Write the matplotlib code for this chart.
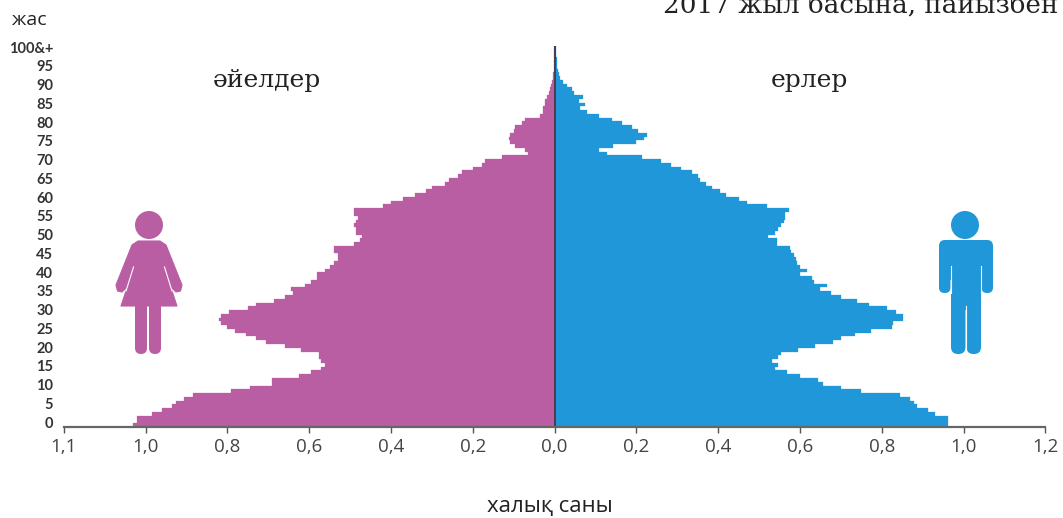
import numpy as np
import matplotlib
matplotlib.use('Agg')
import matplotlib.pyplot as plt
from matplotlib.patches import Circle, FancyBboxPatch, Polygon

ages = list(range(0, 101))

# age 0 .. 100
women = [1.03, 1.02, 1.02, 0.985, 0.96, 0.935, 0.925, 0.905, 0.885, 0.79,
         0.745, 0.69, 0.69, 0.625, 0.595, 0.57, 0.56, 0.57, 0.575, 0.575,
         0.62, 0.66, 0.705, 0.73, 0.755, 0.78, 0.80, 0.815, 0.82, 0.815,
         0.795, 0.75, 0.73, 0.685, 0.66, 0.64, 0.645, 0.61, 0.595, 0.58,
         0.58, 0.56, 0.55, 0.54, 0.53, 0.53, 0.54, 0.54, 0.49, 0.475,
         0.47, 0.485, 0.485, 0.49, 0.485, 0.48, 0.49, 0.49, 0.42, 0.40,
         0.37, 0.34, 0.315, 0.30, 0.267, 0.257, 0.235, 0.227, 0.20, 0.178,
         0.17, 0.129, 0.065, 0.072, 0.096, 0.108, 0.112, 0.108, 0.10, 0.096,
         0.08, 0.072, 0.035, 0.029, 0.029, 0.023, 0.023, 0.019, 0.013, 0.011,
         0.008, 0.006, 0.004, 0.003, 0.002, 0.001, 0.001, 0.001, 0.001, 0.001,
         0.001]
men = [0.963, 0.963, 0.963, 0.93, 0.914, 0.886, 0.88, 0.87, 0.845, 0.75,
       0.70, 0.657, 0.645, 0.60, 0.568, 0.54, 0.547, 0.531, 0.547, 0.555,
       0.596, 0.637, 0.682, 0.70, 0.735, 0.775, 0.825, 0.828, 0.853, 0.853,
       0.836, 0.812, 0.77, 0.74, 0.70, 0.677, 0.65, 0.666, 0.635, 0.63,
       0.60, 0.617, 0.60, 0.592, 0.59, 0.585, 0.578, 0.575, 0.543, 0.543,
       0.523, 0.54, 0.547, 0.555, 0.56, 0.563, 0.563, 0.574, 0.52, 0.47,
       0.45, 0.42, 0.405, 0.385, 0.37, 0.355, 0.35, 0.335, 0.31, 0.285,
       0.26, 0.215, 0.128, 0.11, 0.144, 0.20, 0.218, 0.227, 0.205, 0.189,
       0.165, 0.14, 0.108, 0.08, 0.063, 0.075, 0.059, 0.069, 0.048, 0.042,
       0.03, 0.02, 0.014, 0.011, 0.009, 0.007, 0.006, 0.005, 0.004, 0.004,
       0.004]

age_ticks = list(range(0, 101, 5))
age_labels = [str(a) for a in age_ticks[:-1]] + ['100&+']
x_ticks = [-1.2, -1.0, -0.8, -0.6, -0.4, -0.2, 0, 0.2, 0.4, 0.6, 0.8, 1.0, 1.2]
x_labels = ['1,1', '1,0', '0,8', '0,6', '0,4', '0,2', '0,0', '0,2', '0,4', '0,6', '0,8', '1,0', '1,2']

pink = '#B95EA3'
blue = '#2097D8'
W, H = 1063, 518
sans = ['Open Sans', 'DejaVu Sans']
serif = ['DejaVu Serif']

fig = plt.figure(figsize=(W / 100, H / 100), dpi=100)
ax = fig.add_axes([63.7 / W, 1 - 427 / H, 981.6 / W, 381 / H])

ax.barh(ages, [-v for v in women], height=1, color=pink, linewidth=0.2, edgecolor=pink)
ax.barh(ages, men, height=1, color=blue, linewidth=0.2, edgecolor=blue)
ax.axvline(0, color='#333333', lw=1.1)

ax.set_xlim(-1.2, 1.2)
ax.set_ylim(-0.5, 100.5)
for s in ['top', 'left', 'right']:
    ax.spines[s].set_visible(False)
ax.spines['bottom'].set_color('#666666')
ax.spines['bottom'].set_linewidth(1.6)

ax.set_xticks(x_ticks)
ax.set_xticklabels(x_labels, family='Open Sans', fontsize=13.5, color='#444444')
ax.tick_params(axis='x', length=4, width=1, color='#555555', pad=4)
# age labels sit a little off the bars in the picture
ax.set_yticks([a * 0.994 + 0.8 for a in age_ticks])
ax.set_yticklabels(age_labels, family='Lato', fontweight='bold', fontsize=10.5, color='#333333')
ax.tick_params(axis='y', length=0, pad=7.5)

fig.text(12 / W, 1 - 20 / H, 'жас', family=sans, fontsize=14, color='#222222', va='center')
fig.text(550 / W, 1 - 507 / H, 'халық саны', family=sans, fontsize=16, color='#222222', va='center', ha='center')
fig.text(266.5 / W, 1 - 80 / H, 'әйелдер', family=serif, fontsize=18, color='#222222', va='center', ha='center')
fig.text(809.5 / W, 1 - 80 / H, 'ерлер', family=serif, fontsize=18, color='#222222', va='center', ha='center')
# cropped by the top edge in the reference too
fig.text(663 / W, 1 - 13 / H, '2017 жыл басына, пайызбен', family=serif, fontsize=18.8, color='#222222', va='baseline')

# the two figures, drawn in picture pixels
icons = fig.add_axes([0, 0, 1, 1], facecolor='none')
icons.set_xlim(0, W)
icons.set_ylim(H, 0)
icons.axis('off')


def rounded(x0, y0, x1, y1, r, color):
    icons.add_patch(FancyBboxPatch((x0 + r, y0 + r), x1 - x0 - 2 * r, y1 - y0 - 2 * r,
                                   boxstyle='round,pad=%g,rounding_size=%g' % (r, r),
                                   fc=color, ec='none'))


# woman
icons.add_patch(Circle((149, 225), 14, fc=pink, ec='none'))
icons.add_patch(Polygon([(138, 241), (160, 241), (166, 245), (182, 285), (180.5, 291), (176, 292),
                         (172, 288), (165, 270), (177, 306), (121, 306), (133, 270), (126, 288),
                         (122, 292), (117.5, 291), (116, 285), (132, 245)],
                        closed=True, fc=pink, ec=pink, lw=0.8, joinstyle='round'))
icons.plot([133.5, 126], [267, 291], color='white', lw=0.8)
icons.plot([164.5, 172], [267, 291], color='white', lw=0.8)
rounded(135, 300, 147, 354, 6, pink)
rounded(149, 300, 161, 354, 6, pink)

# man
icons.add_patch(Circle((965, 225), 14, fc=blue, ec='none'))
rounded(939, 240, 993, 280, 6, blue)
rounded(939, 250, 950.5, 293, 5.5, blue)
rounded(981.5, 250, 993, 293, 5.5, blue)
icons.add_patch(Polygon([(951, 270), (981, 270), (981, 310), (951, 310)], fc=blue, ec='none'))
rounded(951, 300, 965.5, 354, 7, blue)
rounded(966.5, 300, 981, 354, 7, blue)
icons.plot([950.8, 950.8], [266, 293], color='white', lw=0.8)
icons.plot([981.2, 981.2], [266, 293], color='white', lw=0.8)
icons.plot([966, 966], [306, 354], color='white', lw=0.8)

fig.savefig('out.png', dpi=100)
